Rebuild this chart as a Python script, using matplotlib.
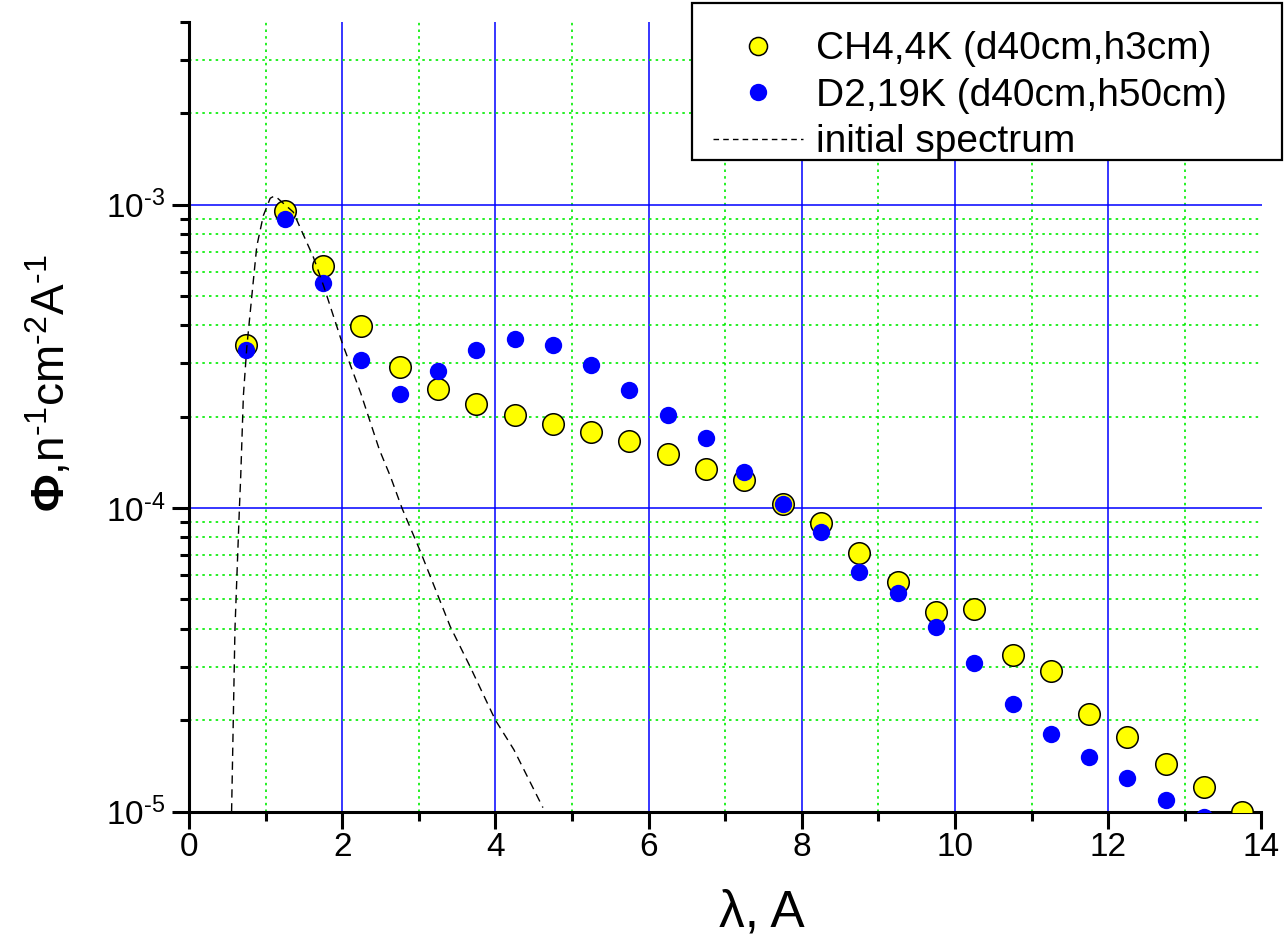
import math
import matplotlib
matplotlib.use("Agg")
import matplotlib.pyplot as plt
from matplotlib.lines import Line2D
from matplotlib.patches import Rectangle
from matplotlib.ticker import FixedLocator, FuncFormatter, NullFormatter

plt.rcParams["font.family"] = ["Liberation Sans", "DejaVu Sans"]
plt.rcParams["mathtext.fontset"] = "custom"
plt.rcParams["mathtext.rm"] = "Liberation Sans"
plt.rcParams["mathtext.it"] = "Liberation Sans:italic"
plt.rcParams["mathtext.bf"] = "Liberation Sans:bold"
plt.rcParams["mathtext.default"] = "regular"

# Wavelength bins (Angstrom)
wavelength = [0.75, 1.25, 1.75, 2.25, 2.75, 3.25, 3.75, 4.25, 4.75, 5.25,
              5.75, 6.25, 6.75, 7.25, 7.75, 8.25, 8.75, 9.25, 9.75, 10.25,
              10.75, 11.25, 11.75, 12.25, 12.75, 13.25, 13.75]

# Flux, CH4 moderator at 4 K (d40cm, h3cm)
flux_ch4 = [3.44e-4, 9.5e-4, 6.29e-4, 3.98e-4, 2.91e-4, 2.46e-4, 2.20e-4, 2.02e-4,
            1.89e-4, 1.78e-4, 1.67e-4, 1.51e-4, 1.35e-4, 1.24e-4, 1.035e-4,
            8.96e-5, 7.13e-5, 5.71e-5, 4.55e-5, 4.65e-5, 3.28e-5, 2.90e-5,
            2.09e-5, 1.76e-5, 1.43e-5, 1.20e-5, 1.0e-5]

# Flux, D2 moderator at 19 K (d40cm, h50cm)
flux_d2 = [3.32e-4, 8.99e-4, 5.52e-4, 3.07e-4, 2.37e-4, 2.83e-4, 3.32e-4, 3.61e-4,
           3.44e-4, 2.96e-4, 2.45e-4, 2.02e-4, 1.70e-4, 1.32e-4, 1.03e-4,
           8.36e-5, 6.17e-5, 5.26e-5, 4.06e-5, 3.09e-5, 2.26e-5, 1.80e-5,
           1.51e-5, 1.29e-5, 1.09e-5, 9.6e-6, 7.8e-6]

# Initial spectrum
init_wl = [0.556, 0.60, 0.658, 0.675, 0.71, 0.755, 0.82, 0.885, 0.97, 1.06, 1.12,
           1.36, 1.625, 1.757, 2.0, 2.24, 2.484, 2.63, 2.78, 3.02, 3.41, 3.67,
           4.0, 4.24, 4.62]
init_flux = [1.0e-5, 4.0e-5, 1.0e-4, 1.27e-4, 2.35e-4, 3.4e-4, 5.0e-4, 7.3e-4,
             9.2e-4, 1.05e-3, 1.07e-3, 9.46e-4, 6.7e-4, 5.4e-4, 3.5e-4, 2.4e-4,
             1.56e-4, 1.27e-4, 1.0e-4, 7.2e-5, 4.07e-5, 3.0e-5, 2.0e-5, 1.6e-5,
             1.03e-5]

x_major = [0, 2, 4, 6, 8, 10, 12, 14]
x_minor = [1, 3, 5, 7, 9, 11, 13]
y_major = [1e-5, 1e-4, 1e-3]
y_minor = [m * d for d in (1e-5, 1e-4, 1e-3) for m in range(2, 10) if m * d <= 4e-3]
labels = ["CH4,4K (d40cm,h3cm)", "D2,19K (d40cm,h50cm)", "initial spectrum"]

W, H = 1284, 940
fig = plt.figure(figsize=(W / 100, H / 100), dpi=100)
ax = fig.add_axes([189 / W, (H - 811.5) / H, (1261.5 - 189) / W, (811.5 - 22) / H])

ax.set_yscale("log")
ax.set_xlim(0, 14)
ax.set_ylim(1e-5, 4e-3)

ax.xaxis.set_major_locator(FixedLocator(x_major))
ax.xaxis.set_minor_locator(FixedLocator(x_minor))
ax.yaxis.set_major_locator(FixedLocator(y_major))
ax.yaxis.set_minor_locator(FixedLocator(y_minor))
ax.yaxis.set_major_formatter(FuncFormatter(
    lambda v, p: r"$\mathregular{10^{\text{-}%d}}$" % abs(round(math.log10(v)))))
ax.yaxis.set_minor_formatter(NullFormatter())

# Grid: solid blue at major positions, dotted green at minor ones (inside the frame)
grid_major = dict(color="#0000ff", linestyle="-", linewidth=1.1, zorder=1)
grid_minor = dict(color="#00ee00", linestyle=(0, (1.5, 2.5)), linewidth=1.2, zorder=1)
for xv in x_major[1:-1]:
    ax.axvline(xv, **grid_major)
for xv in x_minor:
    ax.axvline(xv, **grid_minor)
for yv in y_major[1:]:
    ax.axhline(yv, **grid_major)
for yv in y_minor[:-1]:
    ax.axhline(yv, **grid_minor)

for s in ("top", "right"):
    ax.spines[s].set_visible(False)
for s in ("left", "bottom"):
    ax.spines[s].set_linewidth(2.2)

ax.tick_params(which="major", direction="out", length=12, width=2.2,
               labelsize=24, pad=3)
ax.tick_params(which="minor", direction="out", length=6.5, width=2.2)
ax.tick_params(axis="y", which="major", pad=5, labelsize=24)

ax.plot(wavelength, flux_ch4, linestyle="none", marker="o", markersize=15.5,
        markerfacecolor="#ffff00", markeredgecolor="black", markeredgewidth=1.1,
        zorder=3)
ax.plot(wavelength, flux_d2, linestyle="none", marker="o", markersize=12.5,
        markerfacecolor="#0000ff", markeredgecolor="#0000ff", markeredgewidth=0,
        zorder=4)
ax.plot(init_wl, init_flux, color="black", linewidth=1.0,
        linestyle=(0, (6, 4)), zorder=5)

fig.text(762 / W, 1 - 913 / H, "λ, A", fontsize=37, ha="center", va="center")
fig.text(50 / W, 1 - 383 / H,
         r"$\mathbf{\Phi}$,n$^{\text{-}1}$cm$^{\text{-}2}$A$^{\text{-}1}$",
         fontsize=33, rotation=90, ha="center", va="center")

# Legend frame and entries
frame = Rectangle((692 / W, 1 - 160 / H), 590 / W, 157 / H,
                  transform=fig.transFigure, facecolor="white",
                  edgecolor="black", linewidth=1.6, zorder=4)
fig.add_artist(frame)

handles = [
    Line2D([], [], linestyle="none", marker="o", markersize=13,
           markerfacecolor="#ffff00", markeredgecolor="black", markeredgewidth=1.1),
    Line2D([], [], linestyle="none", marker="o", markersize=12.5,
           markerfacecolor="#0000ff", markeredgewidth=0),
    Line2D([], [], color="black", linewidth=1.0, linestyle=(0, (4, 3))),
]
leg = fig.legend(handles, labels, loc="upper left",
                 bbox_to_anchor=(692 / W, 1 - 10 / H), frameon=False,
                 fontsize=28, borderpad=0.55, borderaxespad=0,
                 handlelength=2.3, handletextpad=0.33, labelspacing=0.27)
leg.set_zorder(6)

fig.savefig("out.png", dpi=100)
